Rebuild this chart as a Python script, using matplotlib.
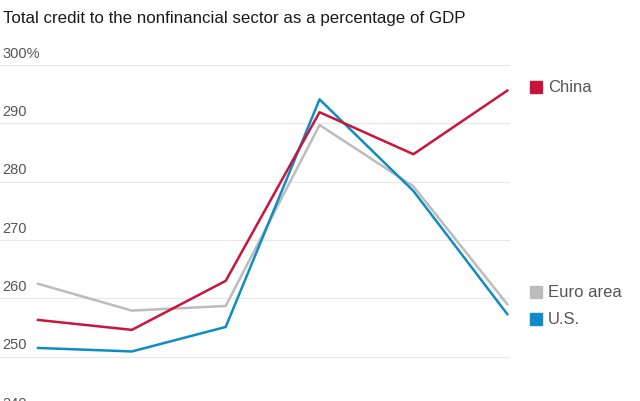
import matplotlib
matplotlib.use("Agg")
import matplotlib.pyplot as plt
from matplotlib.transforms import blended_transform_factory

plt.rcParams['font.family'] = ['Liberation Sans', 'DejaVu Sans']

periods = [0, 1, 2, 3, 4, 5]
china = [256.3, 254.6, 263.0, 291.9, 284.7, 295.6]
euro_area = [262.5, 257.9, 258.7, 289.7, 279.2, 259.0]
us = [251.5, 250.9, 255.1, 294.1, 278.4, 257.3]
yticks = [240, 250, 260, 270, 280, 290, 300]
ytick_labels = ['240', '250', '260', '270', '280', '290', '300%']

red = '#c8153b'
grey = '#bcbcbc'
blue = '#0f8cc6'

fig = plt.figure(figsize=(6.4, 4.02), dpi=100)
ax = fig.add_axes([0.0, -0.035, 0.797, 0.871])

for y in yticks:
    ax.axhline(y, color='#e6e6e6', lw=0.8, zorder=0)

ax.plot(periods, euro_area, color=grey, lw=1.8, zorder=2)
ax.plot(periods, us, color=blue, lw=1.8, zorder=3)
ax.plot(periods, china, color=red, lw=1.8, zorder=4)

ax.set_xlim(-0.405, 5.03)
ax.set_ylim(240, 300)
ax.set_xticks([])
ax.set_yticks([])
for s in ax.spines.values():
    s.set_visible(False)

# y labels sit just above their gridlines, like the original
trans = blended_transform_factory(ax.transAxes, ax.transData)
for y, lab in zip(yticks, ytick_labels):
    ax.text(0.004, y + 0.9, lab, transform=trans, ha='left', va='bottom',
            fontsize=10.5, color='#555555', clip_on=False)

fig.text(0.004, 0.955, 'Total credit to the nonfinancial sector as a percentage of GDP',
         ha='left', va='center', fontsize=12.2, color='#1a1a1a')

legend_items = [('China', red, 88), ('Euro area', grey, 293), ('U.S.', blue, 320)]
for name, col, ypx in legend_items:
    yf = 1 - ypx / 402
    fig.patches.append(plt.Rectangle((530 / 640, yf - 6 / 402), 12 / 640, 12 / 402,
                                     transform=fig.transFigure, color=col))
    fig.text(548 / 640, yf, name, ha='left', va='center', fontsize=12, color='#555555')

fig.savefig('out.png', dpi=100, facecolor='white')
